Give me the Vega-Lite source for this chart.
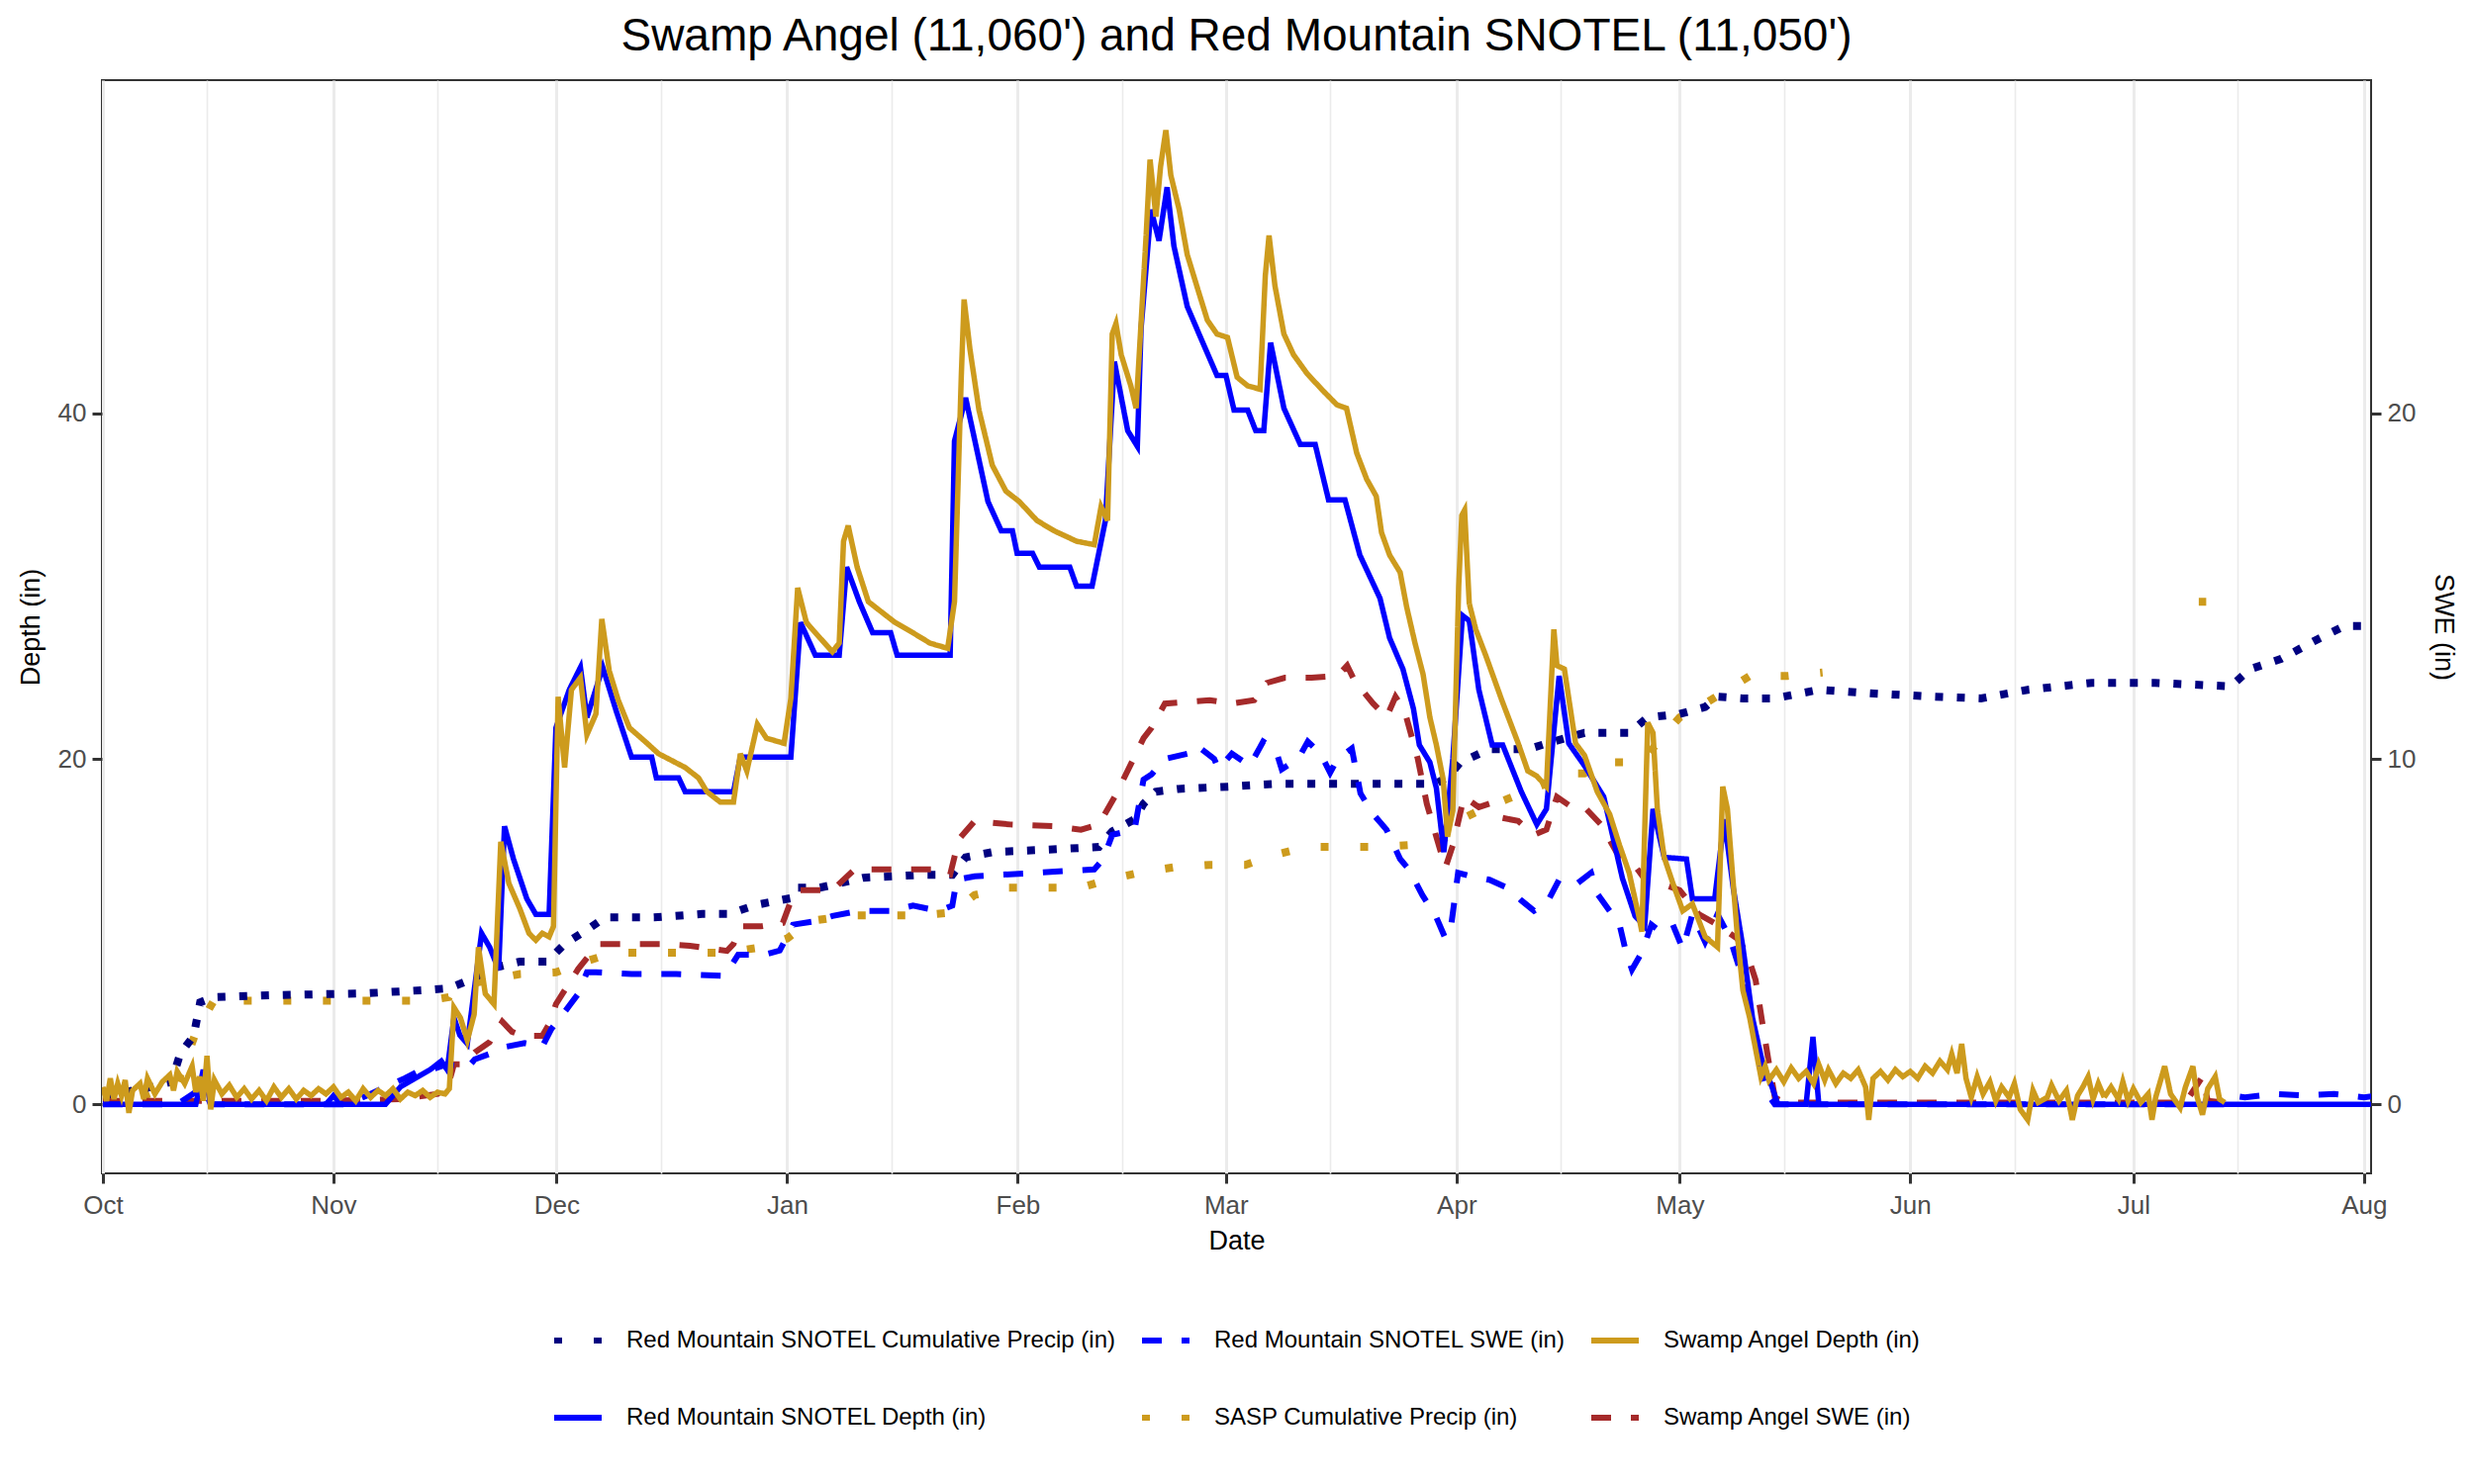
{
  "$schema": "https://vega.github.io/schema/vega-lite/v6.json",
  "width": 2293,
  "height": 1105,
  "autosize": {"type": "none"},
  "padding": {"left": 103, "top": 81, "right": 104, "bottom": 314},
  "background": "white",
  "title": {
    "text": "Swamp Angel (11,060') and Red Mountain SNOTEL (11,050')",
    "fontSize": 46,
    "fontWeight": "normal",
    "color": "black",
    "anchor": "middle",
    "frame": "group",
    "offset": 20
  },
  "datasets": {
    "rmd": [
      {"t":"2022-10-01T00:00","v":0},{"t":"2022-10-06T00:00","v":0},{"t":"2022-10-11T00:00","v":0},{"t":"2022-10-13T12:00","v":0},
      {"t":"2022-10-14T12:00","v":2.0},{"t":"2022-10-15T12:00","v":0},{"t":"2022-10-21T00:00","v":0},{"t":"2022-10-31T00:00","v":0},
      {"t":"2022-11-01T00:00","v":0.5},{"t":"2022-11-02T00:00","v":0},{"t":"2022-11-08T00:00","v":0},{"t":"2022-11-10T00:00","v":1.0},
      {"t":"2022-11-12T00:00","v":1.5},{"t":"2022-11-14T00:00","v":2.0},{"t":"2022-11-15T12:00","v":2.5},{"t":"2022-11-16T07:00","v":2.0},
      {"t":"2022-11-17T05:00","v":5.0},{"t":"2022-11-18T00:00","v":4.0},{"t":"2022-11-19T00:00","v":3.5},{"t":"2022-11-20T22:00","v":9.9},
      {"t":"2022-11-22T00:00","v":9.1},{"t":"2022-11-23T05:00","v":7.8},{"t":"2022-11-24T00:00","v":16.1},{"t":"2022-11-25T05:00","v":14.2},
      {"t":"2022-11-27T00:00","v":11.9},{"t":"2022-11-28T05:00","v":11.0},{"t":"2022-11-30T00:00","v":11.0},{"t":"2022-11-30T22:00","v":21.8},
      {"t":"2022-12-02T17:00","v":24.0},{"t":"2022-12-04T05:00","v":25.3},{"t":"2022-12-05T02:00","v":22.4},{"t":"2022-12-07T05:00","v":25.3},
      {"t":"2022-12-09T00:00","v":22.8},{"t":"2022-12-11T02:00","v":20.1},{"t":"2022-12-13T19:00","v":20.1},{"t":"2022-12-14T10:00","v":18.9},
      {"t":"2022-12-17T10:00","v":18.9},{"t":"2022-12-18T07:00","v":18.1},{"t":"2022-12-24T19:00","v":18.1},{"t":"2022-12-25T17:00","v":20.1},
      {"t":"2023-01-01T12:00","v":20.1},{"t":"2023-01-02T19:00","v":27.9},{"t":"2023-01-04T19:00","v":26.0},{"t":"2023-01-08T00:00","v":26.0},
      {"t":"2023-01-09T00:00","v":31.1},{"t":"2023-01-10T17:00","v":29.1},{"t":"2023-01-12T12:00","v":27.3},{"t":"2023-01-14T22:00","v":27.3},
      {"t":"2023-01-15T19:00","v":26.0},{"t":"2023-01-22T22:00","v":26.0},{"t":"2023-01-23T12:00","v":38.4},{"t":"2023-01-25T00:00","v":40.9},
      {"t":"2023-01-26T12:00","v":37.9},{"t":"2023-01-28T00:00","v":34.9},{"t":"2023-01-29T19:00","v":33.2},{"t":"2023-01-31T07:00","v":33.2},
      {"t":"2023-01-31T22:00","v":31.9},{"t":"2023-02-03T00:00","v":31.9},{"t":"2023-02-03T22:00","v":31.1},{"t":"2023-02-08T00:00","v":31.1},
      {"t":"2023-02-08T22:00","v":30.0},{"t":"2023-02-11T00:00","v":30.0},{"t":"2023-02-12T19:00","v":33.8},{"t":"2023-02-14T00:00","v":43.0},
      {"t":"2023-02-15T19:00","v":39.0},{"t":"2023-02-17T02:00","v":38.1},{"t":"2023-02-17T14:00","v":44.9},{"t":"2023-02-18T22:00","v":51.8},
      {"t":"2023-02-20T00:00","v":50.0},{"t":"2023-02-21T02:00","v":53.1},{"t":"2023-02-22T00:00","v":49.7},{"t":"2023-02-23T19:00","v":46.2},
      {"t":"2023-02-25T14:00","v":44.4},{"t":"2023-02-27T19:00","v":42.2},{"t":"2023-03-01T00:00","v":42.2},{"t":"2023-03-02T02:00","v":40.2},
      {"t":"2023-03-03T22:00","v":40.2},{"t":"2023-03-05T00:00","v":39.0},{"t":"2023-03-06T02:00","v":39.0},{"t":"2023-03-07T00:00","v":44.1},
      {"t":"2023-03-08T19:00","v":40.3},{"t":"2023-03-11T00:00","v":38.2},{"t":"2023-03-13T00:00","v":38.2},{"t":"2023-03-14T19:00","v":35.0},
      {"t":"2023-03-17T00:00","v":35.0},{"t":"2023-03-19T00:00","v":31.8},{"t":"2023-03-21T17:00","v":29.3},{"t":"2023-03-23T00:00","v":27.0},
      {"t":"2023-03-24T19:00","v":25.2},{"t":"2023-03-26T05:00","v":22.9},{"t":"2023-03-27T00:00","v":20.8},{"t":"2023-03-28T10:00","v":19.8},
      {"t":"2023-03-29T07:00","v":18.3},{"t":"2023-03-30T07:00","v":14.6},{"t":"2023-03-31T12:00","v":20.0},{"t":"2023-04-01T19:00","v":28.3},
      {"t":"2023-04-02T17:00","v":28.0},{"t":"2023-04-04T00:00","v":24.0},{"t":"2023-04-05T19:00","v":20.8},{"t":"2023-04-07T05:00","v":20.8},
      {"t":"2023-04-09T17:00","v":18.1},{"t":"2023-04-11T19:00","v":16.2},{"t":"2023-04-13T02:00","v":17.1},{"t":"2023-04-14T19:00","v":24.8},
      {"t":"2023-04-16T02:00","v":20.9},{"t":"2023-04-18T05:00","v":19.6},{"t":"2023-04-20T19:00","v":17.8},{"t":"2023-04-23T07:00","v":13.1},
      {"t":"2023-04-25T00:00","v":10.9},{"t":"2023-04-26T07:00","v":10.3},{"t":"2023-04-27T10:00","v":17.1},{"t":"2023-04-28T22:00","v":14.3},
      {"t":"2023-05-01T22:00","v":14.2},{"t":"2023-05-02T17:00","v":11.9},{"t":"2023-05-05T17:00","v":11.9},{"t":"2023-05-07T00:00","v":16.5},
      {"t":"2023-05-08T05:00","v":12.5},{"t":"2023-05-09T12:00","v":9.1},{"t":"2023-05-10T19:00","v":5.0},{"t":"2023-05-12T02:00","v":2.5},
      {"t":"2023-05-13T10:00","v":1.0},{"t":"2023-05-14T05:00","v":0},{"t":"2023-05-18T00:00","v":0},{"t":"2023-05-18T22:00","v":3.9},
      {"t":"2023-05-19T17:00","v":0},{"t":"2023-06-18T00:00","v":0},{"t":"2023-07-18T00:00","v":0},{"t":"2023-08-03T00:00","v":0}
    ],
    "sad": [
      {"t":"2022-10-01T00:00","v":1.0},{"t":"2022-10-01T12:00","v":0.2},{"t":"2022-10-02T00:00","v":1.5},{"t":"2022-10-02T12:00","v":0.3},
      {"t":"2022-10-03T00:00","v":1.2},{"t":"2022-10-03T12:00","v":0.5},{"t":"2022-10-04T00:00","v":1.4},{"t":"2022-10-04T12:00","v":-0.5},
      {"t":"2022-10-05T00:00","v":0.8},{"t":"2022-10-06T00:00","v":1.2},{"t":"2022-10-06T12:00","v":0.3},{"t":"2022-10-07T00:00","v":1.5},
      {"t":"2022-10-08T00:00","v":0.6},{"t":"2022-10-09T00:00","v":1.3},{"t":"2022-10-10T00:00","v":1.7},{"t":"2022-10-10T12:00","v":0.8},
      {"t":"2022-10-11T00:00","v":1.9},{"t":"2022-10-12T00:00","v":1.2},{"t":"2022-10-13T00:00","v":2.2},{"t":"2022-10-13T12:00","v":0.7},
      {"t":"2022-10-14T00:00","v":1.6},{"t":"2022-10-14T12:00","v":0.2},{"t":"2022-10-15T00:00","v":2.8},{"t":"2022-10-15T12:00","v":-0.3},
      {"t":"2022-10-16T00:00","v":1.4},{"t":"2022-10-17T00:00","v":0.6},{"t":"2022-10-18T00:00","v":1.1},{"t":"2022-10-19T00:00","v":0.4},
      {"t":"2022-10-20T00:00","v":0.9},{"t":"2022-10-21T00:00","v":0.3},{"t":"2022-10-22T00:00","v":0.8},{"t":"2022-10-23T00:00","v":0.2},
      {"t":"2022-10-24T00:00","v":1.0},{"t":"2022-10-25T00:00","v":0.4},{"t":"2022-10-26T00:00","v":0.9},{"t":"2022-10-27T00:00","v":0.3},
      {"t":"2022-10-28T00:00","v":0.8},{"t":"2022-10-29T00:00","v":0.5},{"t":"2022-10-30T00:00","v":0.9},{"t":"2022-10-31T00:00","v":0.6},
      {"t":"2022-11-01T00:00","v":1.0},{"t":"2022-11-02T00:00","v":0.4},{"t":"2022-11-03T00:00","v":0.7},{"t":"2022-11-04T00:00","v":0.2},
      {"t":"2022-11-05T00:00","v":0.9},{"t":"2022-11-06T00:00","v":0.4},{"t":"2022-11-07T00:00","v":0.8},{"t":"2022-11-08T00:00","v":0.5},
      {"t":"2022-11-09T00:00","v":0.9},{"t":"2022-11-10T00:00","v":0.3},{"t":"2022-11-11T00:00","v":0.7},{"t":"2022-11-12T00:00","v":0.5},
      {"t":"2022-11-13T00:00","v":0.8},{"t":"2022-11-14T00:00","v":0.4},{"t":"2022-11-15T00:00","v":0.7},{"t":"2022-11-16T00:00","v":0.6},
      {"t":"2022-11-16T14:00","v":0.9},{"t":"2022-11-17T05:00","v":5.6},{"t":"2022-11-18T02:00","v":5.0},{"t":"2022-11-19T00:00","v":3.7},
      {"t":"2022-11-19T22:00","v":5.2},{"t":"2022-11-20T12:00","v":9.1},{"t":"2022-11-21T10:00","v":6.4},{"t":"2022-11-22T14:00","v":5.8},
      {"t":"2022-11-23T12:00","v":15.2},{"t":"2022-11-24T14:00","v":12.8},{"t":"2022-11-26T02:00","v":11.3},{"t":"2022-11-27T07:00","v":9.9},
      {"t":"2022-11-28T05:00","v":9.5},{"t":"2022-11-29T02:00","v":9.9},{"t":"2022-11-30T00:00","v":9.7},{"t":"2022-11-30T14:00","v":10.3},
      {"t":"2022-12-01T05:00","v":23.6},{"t":"2022-12-02T02:00","v":19.5},{"t":"2022-12-03T00:00","v":24.0},{"t":"2022-12-04T05:00","v":24.7},
      {"t":"2022-12-05T02:00","v":21.4},{"t":"2022-12-06T07:00","v":22.6},{"t":"2022-12-07T02:00","v":28.1},{"t":"2022-12-08T02:00","v":25.1},
      {"t":"2022-12-09T07:00","v":23.4},{"t":"2022-12-10T19:00","v":21.8},{"t":"2022-12-12T22:00","v":21.0},{"t":"2022-12-14T17:00","v":20.3},
      {"t":"2022-12-16T12:00","v":19.9},{"t":"2022-12-18T07:00","v":19.5},{"t":"2022-12-20T02:00","v":18.9},{"t":"2022-12-21T05:00","v":18.1},
      {"t":"2022-12-23T00:00","v":17.5},{"t":"2022-12-24T19:00","v":17.5},{"t":"2022-12-25T17:00","v":20.3},{"t":"2022-12-26T14:00","v":19.3},
      {"t":"2022-12-28T00:00","v":22.0},{"t":"2022-12-29T05:00","v":21.2},{"t":"2022-12-31T14:00","v":20.9},{"t":"2023-01-01T12:00","v":23.5},
      {"t":"2023-01-02T10:00","v":29.9},{"t":"2023-01-03T14:00","v":27.9},{"t":"2023-01-05T10:00","v":27.0},{"t":"2023-01-07T02:00","v":26.2},
      {"t":"2023-01-08T00:00","v":26.7},{"t":"2023-01-08T14:00","v":32.6},{"t":"2023-01-09T05:00","v":33.5},{"t":"2023-01-10T10:00","v":31.1},
      {"t":"2023-01-11T22:00","v":29.1},{"t":"2023-01-13T17:00","v":28.5},{"t":"2023-01-15T12:00","v":27.9},{"t":"2023-01-17T22:00","v":27.3},
      {"t":"2023-01-20T05:00","v":26.7},{"t":"2023-01-22T14:00","v":26.4},{"t":"2023-01-23T12:00","v":29.1},{"t":"2023-01-24T10:00","v":42.2},
      {"t":"2023-01-24T19:00","v":46.6},{"t":"2023-01-25T14:00","v":43.7},{"t":"2023-01-26T19:00","v":40.2},{"t":"2023-01-28T14:00","v":37.0},
      {"t":"2023-01-30T10:00","v":35.5},{"t":"2023-02-01T05:00","v":34.9},{"t":"2023-02-03T14:00","v":33.8},{"t":"2023-02-05T22:00","v":33.2},
      {"t":"2023-02-08T22:00","v":32.6},{"t":"2023-02-11T07:00","v":32.4},{"t":"2023-02-12T05:00","v":34.6},{"t":"2023-02-13T02:00","v":33.8},
      {"t":"2023-02-13T17:00","v":44.6},{"t":"2023-02-14T05:00","v":45.2},{"t":"2023-02-14T22:00","v":43.4},{"t":"2023-02-16T05:00","v":41.6},
      {"t":"2023-02-16T22:00","v":40.3},{"t":"2023-02-17T12:00","v":44.6},{"t":"2023-02-18T07:00","v":50.5},{"t":"2023-02-18T19:00","v":54.7},
      {"t":"2023-02-19T14:00","v":51.4},{"t":"2023-02-20T05:00","v":54.3},{"t":"2023-02-20T22:00","v":56.4},{"t":"2023-02-21T14:00","v":53.8},
      {"t":"2023-02-22T17:00","v":51.8},{"t":"2023-02-23T19:00","v":49.2},{"t":"2023-02-25T05:00","v":47.2},{"t":"2023-02-26T12:00","v":45.4},
      {"t":"2023-02-27T19:00","v":44.6},{"t":"2023-03-01T05:00","v":44.4},{"t":"2023-03-02T12:00","v":42.1},{"t":"2023-03-03T22:00","v":41.6},
      {"t":"2023-03-05T14:00","v":41.4},{"t":"2023-03-06T07:00","v":48.0},{"t":"2023-03-06T19:00","v":50.3},{"t":"2023-03-07T14:00","v":47.4},
      {"t":"2023-03-08T19:00","v":44.6},{"t":"2023-03-10T02:00","v":43.4},{"t":"2023-03-11T22:00","v":42.3},{"t":"2023-03-14T02:00","v":41.3},
      {"t":"2023-03-15T22:00","v":40.5},{"t":"2023-03-17T05:00","v":40.3},{"t":"2023-03-18T14:00","v":37.7},{"t":"2023-03-19T22:00","v":36.2},
      {"t":"2023-03-21T05:00","v":35.2},{"t":"2023-03-21T22:00","v":33.1},{"t":"2023-03-23T00:00","v":31.8},{"t":"2023-03-24T10:00","v":30.8},
      {"t":"2023-03-25T07:00","v":28.8},{"t":"2023-03-26T10:00","v":26.7},{"t":"2023-03-27T12:00","v":24.9},{"t":"2023-03-28T10:00","v":22.4},
      {"t":"2023-03-29T07:00","v":20.8},{"t":"2023-03-30T05:00","v":18.8},{"t":"2023-03-30T19:00","v":15.5},{"t":"2023-03-31T12:00","v":17.0},
      {"t":"2023-04-01T07:00","v":30.0},{"t":"2023-04-01T17:00","v":34.1},{"t":"2023-04-02T02:00","v":34.4},{"t":"2023-04-02T17:00","v":29.0},
      {"t":"2023-04-03T14:00","v":27.5},{"t":"2023-04-04T22:00","v":26.0},{"t":"2023-04-07T02:00","v":23.4},{"t":"2023-04-09T07:00","v":20.9},
      {"t":"2023-04-10T14:00","v":19.3},{"t":"2023-04-11T19:00","v":19.0},{"t":"2023-04-13T02:00","v":18.4},{"t":"2023-04-14T02:00","v":27.5},
      {"t":"2023-04-14T12:00","v":25.4},{"t":"2023-04-15T12:00","v":25.2},{"t":"2023-04-17T00:00","v":20.9},{"t":"2023-04-18T05:00","v":20.2},
      {"t":"2023-04-19T22:00","v":18.1},{"t":"2023-04-21T14:00","v":16.8},{"t":"2023-04-22T22:00","v":15.0},{"t":"2023-04-24T05:00","v":13.4},
      {"t":"2023-04-25T12:00","v":10.9},{"t":"2023-04-25T22:00","v":10.0},{"t":"2023-04-26T17:00","v":22.1},{"t":"2023-04-27T10:00","v":21.5},
      {"t":"2023-04-28T00:00","v":17.1},{"t":"2023-04-28T22:00","v":14.3},{"t":"2023-04-30T02:00","v":12.8},{"t":"2023-05-01T10:00","v":11.2},
      {"t":"2023-05-02T17:00","v":11.6},{"t":"2023-05-04T10:00","v":9.7},{"t":"2023-05-06T02:00","v":9.1},{"t":"2023-05-06T19:00","v":18.4},
      {"t":"2023-05-07T10:00","v":17.1},{"t":"2023-05-08T17:00","v":10.0},{"t":"2023-05-09T12:00","v":6.6},{"t":"2023-05-10T10:00","v":5.0},
      {"t":"2023-05-11T05:00","v":3.2},{"t":"2023-05-11T22:00","v":1.6},{"t":"2023-05-12T12:00","v":2.2},{"t":"2023-05-13T00:00","v":1.4},
      {"t":"2023-05-14T00:00","v":2.0},{"t":"2023-05-15T00:00","v":1.3},{"t":"2023-05-16T00:00","v":2.1},{"t":"2023-05-17T00:00","v":1.5},
      {"t":"2023-05-18T00:00","v":1.9},{"t":"2023-05-19T00:00","v":1.2},{"t":"2023-05-19T17:00","v":2.3},{"t":"2023-05-20T12:00","v":1.4},
      {"t":"2023-05-21T00:00","v":2.0},{"t":"2023-05-22T00:00","v":1.2},{"t":"2023-05-23T00:00","v":1.8},{"t":"2023-05-24T00:00","v":1.5},
      {"t":"2023-05-25T00:00","v":2.0},{"t":"2023-05-26T00:00","v":1.0},{"t":"2023-05-26T10:00","v":-0.9},{"t":"2023-05-27T00:00","v":1.5},
      {"t":"2023-05-28T00:00","v":1.9},{"t":"2023-05-29T00:00","v":1.4},{"t":"2023-05-30T00:00","v":2.0},{"t":"2023-05-31T00:00","v":1.6},
      {"t":"2023-06-01T00:00","v":1.9},{"t":"2023-06-02T00:00","v":1.5},{"t":"2023-06-03T00:00","v":2.2},{"t":"2023-06-04T00:00","v":1.8},
      {"t":"2023-06-05T00:00","v":2.5},{"t":"2023-06-06T00:00","v":2.0},{"t":"2023-06-06T14:00","v":2.9},{"t":"2023-06-07T07:00","v":1.8},
      {"t":"2023-06-07T22:00","v":3.5},{"t":"2023-06-08T12:00","v":1.5},{"t":"2023-06-09T05:00","v":0.4},{"t":"2023-06-10T00:00","v":1.6},
      {"t":"2023-06-10T19:00","v":0.6},{"t":"2023-06-11T17:00","v":1.3},{"t":"2023-06-12T12:00","v":0.2},{"t":"2023-06-13T07:00","v":1.0},
      {"t":"2023-06-14T07:00","v":0.4},{"t":"2023-06-15T00:00","v":1.2},{"t":"2023-06-15T19:00","v":-0.3},{"t":"2023-06-16T19:00","v":-0.9},
      {"t":"2023-06-17T12:00","v":0.8},{"t":"2023-06-18T05:00","v":0.1},{"t":"2023-06-19T10:00","v":0.4},{"t":"2023-06-20T00:00","v":1.1},
      {"t":"2023-06-21T00:00","v":0.2},{"t":"2023-06-22T00:00","v":0.8},{"t":"2023-06-22T19:00","v":-0.9},{"t":"2023-06-23T12:00","v":0.5},
      {"t":"2023-06-24T05:00","v":1.0},{"t":"2023-06-24T22:00","v":1.6},{"t":"2023-06-25T14:00","v":0.3},{"t":"2023-06-26T07:00","v":1.2},
      {"t":"2023-06-27T02:00","v":0.4},{"t":"2023-06-28T00:00","v":1.0},{"t":"2023-06-29T00:00","v":0.3},{"t":"2023-06-29T14:00","v":1.3},
      {"t":"2023-06-30T07:00","v":0.2},{"t":"2023-07-01T00:00","v":0.9},{"t":"2023-07-02T00:00","v":0.1},{"t":"2023-07-03T00:00","v":0.6},
      {"t":"2023-07-03T12:00","v":-0.9},{"t":"2023-07-04T00:00","v":0.4},{"t":"2023-07-05T05:00","v":2.2},{"t":"2023-07-06T00:00","v":0.6},
      {"t":"2023-07-07T07:00","v":-0.2},{"t":"2023-07-08T00:00","v":1.0},{"t":"2023-07-09T00:00","v":2.2},{"t":"2023-07-09T14:00","v":0.4},
      {"t":"2023-07-10T07:00","v":-0.6},{"t":"2023-07-11T00:00","v":0.9},{"t":"2023-07-12T00:00","v":1.6},{"t":"2023-07-12T14:00","v":0.3},
      {"t":"2023-07-13T07:00","v":0.1}
    ],
    "rms": [
      {"t":"2022-10-01T00:00","v":0},{"t":"2022-10-11T00:00","v":0},{"t":"2022-10-14T12:00","v":0.5},{"t":"2022-10-15T12:00","v":0},
      {"t":"2022-10-26T00:00","v":0},{"t":"2022-11-02T19:00","v":0},{"t":"2022-11-06T00:00","v":0.3},{"t":"2022-11-08T00:00","v":0.5},
      {"t":"2022-11-10T14:00","v":0.75},{"t":"2022-11-12T10:00","v":0.95},{"t":"2022-11-14T19:00","v":1.05},{"t":"2022-11-16T07:00","v":1.16},
      {"t":"2022-11-19T00:00","v":1.05},{"t":"2022-11-20T00:00","v":1.3},{"t":"2022-11-22T00:00","v":1.46},{"t":"2022-11-24T07:00","v":1.67},
      {"t":"2022-11-26T17:00","v":1.77},{"t":"2022-11-29T02:00","v":1.67},{"t":"2022-11-30T07:00","v":2.18},{"t":"2022-12-01T19:00","v":2.59},
      {"t":"2022-12-03T22:00","v":3.2},{"t":"2022-12-05T02:00","v":3.82},{"t":"2022-12-06T07:00","v":3.82},{"t":"2022-12-11T02:00","v":3.77},
      {"t":"2022-12-17T02:00","v":3.77},{"t":"2022-12-23T14:00","v":3.72},{"t":"2022-12-25T10:00","v":4.33},{"t":"2022-12-29T00:00","v":4.33},
      {"t":"2022-12-31T00:00","v":4.45},{"t":"2023-01-01T19:00","v":5.2},{"t":"2023-01-04T19:00","v":5.3},{"t":"2023-01-07T02:00","v":5.45},
      {"t":"2023-01-10T17:00","v":5.6},{"t":"2023-01-14T22:00","v":5.6},{"t":"2023-01-17T22:00","v":5.75},{"t":"2023-01-21T10:00","v":5.6},
      {"t":"2023-01-23T05:00","v":5.75},{"t":"2023-01-23T19:00","v":6.5},{"t":"2023-01-26T05:00","v":6.6},{"t":"2023-02-11T07:00","v":6.8},
      {"t":"2023-02-12T12:00","v":7.1},{"t":"2023-02-13T17:00","v":7.8},{"t":"2023-02-16T17:00","v":7.95},{"t":"2023-02-17T22:00","v":9.4},
      {"t":"2023-02-19T00:00","v":9.55},{"t":"2023-02-20T19:00","v":10.0},{"t":"2023-02-23T19:00","v":10.15},{"t":"2023-02-25T00:00","v":10.4},
      {"t":"2023-02-27T10:00","v":10.0},{"t":"2023-02-28T00:00","v":9.7},{"t":"2023-03-01T19:00","v":10.15},{"t":"2023-03-04T05:00","v":9.8},
      {"t":"2023-03-06T00:00","v":10.5},{"t":"2023-03-07T17:00","v":10.25},{"t":"2023-03-08T12:00","v":9.7},{"t":"2023-03-10T17:00","v":10.0},
      {"t":"2023-03-12T00:00","v":10.5},{"t":"2023-03-13T17:00","v":10.15},{"t":"2023-03-15T00:00","v":9.6},{"t":"2023-03-16T00:00","v":10.0},
      {"t":"2023-03-17T22:00","v":10.3},{"t":"2023-03-19T02:00","v":9.0},{"t":"2023-03-20T19:00","v":8.4},{"t":"2023-03-22T14:00","v":7.95},
      {"t":"2023-03-24T10:00","v":7.1},{"t":"2023-03-25T14:00","v":6.8},{"t":"2023-03-27T10:00","v":6.05},{"t":"2023-03-29T05:00","v":5.45},
      {"t":"2023-03-30T12:00","v":4.8},{"t":"2023-03-31T07:00","v":5.2},{"t":"2023-04-01T05:00","v":6.7},{"t":"2023-04-03T00:00","v":6.6},
      {"t":"2023-04-05T10:00","v":6.5},{"t":"2023-04-08T00:00","v":6.25},{"t":"2023-04-09T17:00","v":5.9},{"t":"2023-04-11T10:00","v":5.6},
      {"t":"2023-04-13T02:00","v":5.8},{"t":"2023-04-14T19:00","v":6.5},{"t":"2023-04-17T07:00","v":6.4},{"t":"2023-04-19T02:00","v":6.7},
      {"t":"2023-04-19T22:00","v":6.1},{"t":"2023-04-21T14:00","v":5.6},{"t":"2023-04-22T22:00","v":5.2},{"t":"2023-04-23T19:00","v":4.4},
      {"t":"2023-04-24T14:00","v":3.9},{"t":"2023-04-25T22:00","v":4.4},{"t":"2023-04-27T05:00","v":5.2},{"t":"2023-04-28T10:00","v":5.0},
      {"t":"2023-04-30T02:00","v":5.2},{"t":"2023-05-01T10:00","v":4.5},{"t":"2023-05-02T17:00","v":5.5},{"t":"2023-05-04T10:00","v":4.7},
      {"t":"2023-05-06T02:00","v":5.5},{"t":"2023-05-07T19:00","v":4.8},{"t":"2023-05-09T02:00","v":3.9},{"t":"2023-05-09T22:00","v":3.3},
      {"t":"2023-05-10T19:00","v":2.4},{"t":"2023-05-11T14:00","v":1.3},{"t":"2023-05-12T22:00","v":0.26},{"t":"2023-05-13T19:00","v":0},
      {"t":"2023-07-13T00:00","v":0},{"t":"2023-07-14T02:00","v":0.26},{"t":"2023-07-16T00:00","v":0.2},{"t":"2023-07-20T00:00","v":0.3},
      {"t":"2023-07-24T00:00","v":0.25},{"t":"2023-07-28T00:00","v":0.3},{"t":"2023-08-01T00:00","v":0.2},{"t":"2023-08-03T00:00","v":0.25}
    ],
    "sas": [
      {"t":"2022-10-01T00:00","v":0.1},{"t":"2022-10-16T00:00","v":0.1},{"t":"2022-10-31T00:00","v":0.1},{"t":"2022-11-10T00:00","v":0.15},
      {"t":"2022-11-15T00:00","v":0.3},{"t":"2022-11-16T12:00","v":0.6},{"t":"2022-11-17T05:00","v":1.16},{"t":"2022-11-18T10:00","v":1.16},
      {"t":"2022-11-20T00:00","v":1.5},{"t":"2022-11-22T00:00","v":1.8},{"t":"2022-11-23T17:00","v":2.39},{"t":"2022-11-25T00:00","v":2.1},
      {"t":"2022-11-26T10:00","v":1.98},{"t":"2022-11-29T02:00","v":1.98},{"t":"2022-11-30T05:00","v":2.4},{"t":"2022-11-30T22:00","v":2.9},
      {"t":"2022-12-03T22:00","v":3.92},{"t":"2022-12-06T14:00","v":4.64},{"t":"2022-12-15T07:00","v":4.64},{"t":"2022-12-18T22:00","v":4.59},
      {"t":"2022-12-23T22:00","v":4.44},{"t":"2022-12-24T19:00","v":4.64},{"t":"2022-12-25T17:00","v":5.15},{"t":"2022-12-28T10:00","v":5.15},
      {"t":"2022-12-31T10:00","v":5.25},{"t":"2023-01-01T19:00","v":6.05},{"t":"2023-01-02T10:00","v":6.2},{"t":"2023-01-07T02:00","v":6.2},
      {"t":"2023-01-10T02:00","v":6.8},{"t":"2023-01-16T02:00","v":6.8},{"t":"2023-01-20T19:00","v":6.8},{"t":"2023-01-22T22:00","v":6.65},
      {"t":"2023-01-24T02:00","v":7.67},{"t":"2023-01-26T05:00","v":8.2},{"t":"2023-01-31T00:00","v":8.1},{"t":"2023-02-05T22:00","v":8.05},
      {"t":"2023-02-09T12:00","v":7.95},{"t":"2023-02-11T22:00","v":8.1},{"t":"2023-02-14T07:00","v":9.0},{"t":"2023-02-17T22:00","v":10.6},
      {"t":"2023-02-19T00:00","v":10.9},{"t":"2023-02-20T19:00","v":11.6},{"t":"2023-02-23T19:00","v":11.65},{"t":"2023-02-26T19:00","v":11.7},
      {"t":"2023-03-01T19:00","v":11.6},{"t":"2023-03-04T19:00","v":11.7},{"t":"2023-03-06T12:00","v":12.2},{"t":"2023-03-08T22:00","v":12.35},
      {"t":"2023-03-12T12:00","v":12.35},{"t":"2023-03-16T00:00","v":12.4},{"t":"2023-03-17T07:00","v":12.7},{"t":"2023-03-18T05:00","v":12.3},
      {"t":"2023-03-19T02:00","v":12.05},{"t":"2023-03-20T19:00","v":11.6},{"t":"2023-03-22T14:00","v":11.2},{"t":"2023-03-23T19:00","v":11.8},
      {"t":"2023-03-25T00:00","v":11.4},{"t":"2023-03-26T19:00","v":10.0},{"t":"2023-03-28T00:00","v":8.7},{"t":"2023-03-29T05:00","v":7.8},
      {"t":"2023-03-30T12:00","v":6.85},{"t":"2023-03-31T12:00","v":7.5},{"t":"2023-04-02T00:00","v":8.9},{"t":"2023-04-04T00:00","v":8.6},
      {"t":"2023-04-05T10:00","v":8.7},{"t":"2023-04-07T00:00","v":8.3},{"t":"2023-04-09T07:00","v":8.2},{"t":"2023-04-11T10:00","v":7.8},
      {"t":"2023-04-13T02:00","v":7.95},{"t":"2023-04-14T12:00","v":8.9},{"t":"2023-04-16T12:00","v":8.6},{"t":"2023-04-18T05:00","v":8.6},
      {"t":"2023-04-20T10:00","v":8.1},{"t":"2023-04-22T12:00","v":7.3},{"t":"2023-04-25T00:00","v":6.9},{"t":"2023-04-26T17:00","v":6.4},
      {"t":"2023-04-28T10:00","v":6.4},{"t":"2023-05-01T00:00","v":6.2},{"t":"2023-05-03T14:00","v":5.5},{"t":"2023-05-06T02:00","v":5.2},
      {"t":"2023-05-08T17:00","v":4.8},{"t":"2023-05-10T00:00","v":4.4},{"t":"2023-05-11T05:00","v":3.6},{"t":"2023-05-12T02:00","v":2.4},
      {"t":"2023-05-12T22:00","v":1.3},{"t":"2023-05-13T19:00","v":0.2},{"t":"2023-05-15T00:00","v":0.05},{"t":"2023-06-08T00:00","v":0.05},
      {"t":"2023-07-08T00:00","v":0.05},{"t":"2023-07-10T07:00","v":0.8},{"t":"2023-07-11T00:00","v":0.1},{"t":"2023-07-13T07:00","v":0.05}
    ],
    "rmp": [
      {"t":"2022-10-01T00:00","v":0.25},{"t":"2022-10-06T07:00","v":0.44},{"t":"2022-10-10T05:00","v":0.65},{"t":"2022-10-11T10:00","v":1.47},
      {"t":"2022-10-13T05:00","v":1.98},{"t":"2022-10-14T02:00","v":2.95},{"t":"2022-10-15T22:00","v":3.1},{"t":"2022-10-24T07:00","v":3.16},
      {"t":"2022-11-05T05:00","v":3.21},{"t":"2022-11-13T14:00","v":3.31},{"t":"2022-11-16T14:00","v":3.36},{"t":"2022-11-19T14:00","v":3.62},
      {"t":"2022-11-22T00:00","v":3.92},{"t":"2022-11-26T02:00","v":4.13},{"t":"2022-11-29T17:00","v":4.13},{"t":"2022-12-02T02:00","v":4.64},
      {"t":"2022-12-05T02:00","v":5.05},{"t":"2022-12-07T12:00","v":5.41},{"t":"2022-12-14T02:00","v":5.41},{"t":"2022-12-20T14:00","v":5.51},
      {"t":"2022-12-24T05:00","v":5.51},{"t":"2022-12-27T19:00","v":5.77},{"t":"2023-01-01T14:00","v":5.97},{"t":"2023-01-02T10:00","v":6.27},
      {"t":"2023-01-05T10:00","v":6.27},{"t":"2023-01-11T07:00","v":6.56},{"t":"2023-01-19T02:00","v":6.64},{"t":"2023-01-23T05:00","v":6.64},
      {"t":"2023-01-25T00:00","v":7.15},{"t":"2023-01-28T14:00","v":7.3},{"t":"2023-02-04T17:00","v":7.37},{"t":"2023-02-11T22:00","v":7.45},
      {"t":"2023-02-13T17:00","v":7.9},{"t":"2023-02-16T17:00","v":8.25},{"t":"2023-02-17T22:00","v":8.7},{"t":"2023-02-19T14:00","v":9.05},
      {"t":"2023-02-22T14:00","v":9.13},{"t":"2023-03-01T19:00","v":9.2},{"t":"2023-03-07T17:00","v":9.28},{"t":"2023-03-20T19:00","v":9.28},
      {"t":"2023-03-29T05:00","v":9.28},{"t":"2023-03-31T00:00","v":9.5},{"t":"2023-04-01T12:00","v":9.9},{"t":"2023-04-05T10:00","v":10.28},
      {"t":"2023-04-10T14:00","v":10.28},{"t":"2023-04-14T00:00","v":10.5},{"t":"2023-04-18T05:00","v":10.75},{"t":"2023-04-24T05:00","v":10.75},
      {"t":"2023-04-26T17:00","v":11.2},{"t":"2023-05-01T00:00","v":11.3},{"t":"2023-05-04T10:00","v":11.5},{"t":"2023-05-06T02:00","v":11.8},
      {"t":"2023-05-09T12:00","v":11.75},{"t":"2023-05-13T19:00","v":11.75},{"t":"2023-05-19T17:00","v":12.0},{"t":"2023-05-26T14:00","v":11.9},
      {"t":"2023-06-04T02:00","v":11.8},{"t":"2023-06-10T12:00","v":11.75},{"t":"2023-06-16T19:00","v":12.0},{"t":"2023-06-25T10:00","v":12.2},
      {"t":"2023-07-03T22:00","v":12.2},{"t":"2023-07-14T02:00","v":12.1},{"t":"2023-07-16T17:00","v":12.6},{"t":"2023-07-20T22:00","v":12.9},
      {"t":"2023-07-25T05:00","v":13.4},{"t":"2023-07-29T10:00","v":13.85},{"t":"2023-08-01T00:00","v":13.85},{"t":"2023-08-02T17:00","v":13.9}
    ],
    "sap": [
      {"t":"2022-10-01T00:00","v":0.1},{"t":"2022-10-06T00:00","v":0.2},{"t":"2022-10-11T00:00","v":0.6},{"t":"2022-10-13T12:00","v":2.08},
      {"t":"2022-10-15T22:00","v":3.0},{"t":"2022-11-04T00:00","v":3.0},{"t":"2022-11-13T14:00","v":3.0},{"t":"2022-11-16T12:00","v":3.1},
      {"t":"2022-11-17T05:00","v":3.4},{"t":"2022-11-22T00:00","v":3.6},{"t":"2022-11-26T02:00","v":3.77},{"t":"2022-11-30T22:00","v":3.82},
      {"t":"2022-12-04T19:00","v":4.13},{"t":"2022-12-08T17:00","v":4.39},{"t":"2022-12-23T14:00","v":4.39},{"t":"2022-12-28T10:00","v":4.54},
      {"t":"2023-01-01T00:00","v":4.8},{"t":"2023-01-04T00:00","v":5.3},{"t":"2023-01-09T12:00","v":5.47},{"t":"2023-01-19T02:00","v":5.47},
      {"t":"2023-01-23T05:00","v":5.55},{"t":"2023-01-26T05:00","v":6.06},{"t":"2023-01-30T10:00","v":6.27},{"t":"2023-02-09T12:00","v":6.27},
      {"t":"2023-02-13T02:00","v":6.5},{"t":"2023-02-17T07:00","v":6.7},{"t":"2023-02-22T00:00","v":6.86},{"t":"2023-02-26T19:00","v":6.93},
      {"t":"2023-03-03T14:00","v":6.93},{"t":"2023-03-07T17:00","v":7.23},{"t":"2023-03-11T22:00","v":7.45},{"t":"2023-03-21T10:00","v":7.45},
      {"t":"2023-03-26T19:00","v":7.52},{"t":"2023-03-30T00:00","v":7.6},{"t":"2023-04-01T17:00","v":8.26},{"t":"2023-04-05T00:00","v":8.6},
      {"t":"2023-04-09T07:00","v":8.96},{"t":"2023-04-16T12:00","v":9.58},{"t":"2023-04-18T05:00","v":9.58},{"t":"2023-04-21T05:00","v":9.9},
      {"t":"2023-04-25T22:00","v":9.9},{"t":"2023-04-28T12:00","v":10.6},{"t":"2023-05-01T00:00","v":11.2},{"t":"2023-05-04T10:00","v":11.6},
      {"t":"2023-05-07T10:00","v":12.0},{"t":"2023-05-10T10:00","v":12.4},{"t":"2023-05-15T12:00","v":12.4},{"t":"2023-05-20T05:00","v":12.5},
      {"t":"2023-05-20T14:00","v":null},{"t":"2023-07-09T19:00","v":14.55},{"t":"2023-07-10T19:00","v":14.55}
    ]
  },
  "encoding": {
    "x": {
      "field": "t",
      "type": "temporal",
      "title": "Date",
      "scale": {
        "domain": [
          {"year": 2022, "month": 9, "date": 30, "hours": 21},
          {"year": 2023, "month": 8, "date": 1, "hours": 23}
        ]
      },
      "axis": {
        "values": [
          {"year": 2022, "month": 10, "date": 1}, {"year": 2022, "month": 10, "date": 15},
          {"year": 2022, "month": 11, "date": 1}, {"year": 2022, "month": 11, "date": 15},
          {"year": 2022, "month": 12, "date": 1}, {"year": 2022, "month": 12, "date": 15},
          {"year": 2023, "month": 1, "date": 1}, {"year": 2023, "month": 1, "date": 15},
          {"year": 2023, "month": 2, "date": 1}, {"year": 2023, "month": 2, "date": 15},
          {"year": 2023, "month": 3, "date": 1}, {"year": 2023, "month": 3, "date": 15},
          {"year": 2023, "month": 4, "date": 1}, {"year": 2023, "month": 4, "date": 15},
          {"year": 2023, "month": 5, "date": 1}, {"year": 2023, "month": 5, "date": 15},
          {"year": 2023, "month": 6, "date": 1}, {"year": 2023, "month": 6, "date": 15},
          {"year": 2023, "month": 7, "date": 1}, {"year": 2023, "month": 7, "date": 15},
          {"year": 2023, "month": 8, "date": 1}
        ],
        "labelExpr": "date(datum.value) == 1 ? timeFormat(datum.value, '%b') : ''",
        "tickOpacity": {"condition": {"test": "date(datum.value) == 1", "value": 1}, "value": 0},
        "gridWidth": {"condition": {"test": "date(datum.value) == 1", "value": 3}, "value": 1.6},
        "labelPadding": 9,
        "titlePadding": 10
      }
    }
  },
  "layer": [
    {
      "encoding": {
        "y": {
          "field": "v",
          "type": "quantitative",
          "title": "SWE (in)",
          "scale": {"domain": [-2.0, 29.65], "nice": false, "zero": false},
          "axis": {
            "orient": "right",
            "values": [0, 10, 20],
            "grid": false,
            "labelPadding": 6,
            "titlePadding": 14
          }
        }
      },
      "layer": [
        {
          "data": {"name": "sap"},
          "mark": {"type": "line", "strokeWidth": 8, "clip": true, "invalid": "break-paths-show-domains"},
          "encoding": {
            "color": {
              "datum": "SASP Cumulative Precip (in)",
              "scale": {
                "domain": ["Red Mountain SNOTEL Cumulative Precip (in)", "Red Mountain SNOTEL Depth (in)", "Red Mountain SNOTEL SWE (in)", "SASP Cumulative Precip (in)", "Swamp Angel Depth (in)", "Swamp Angel SWE (in)"],
                "range": ["#000080", "#0000FF", "#0000FF", "#CD9B1D", "#CD9B1D", "#A52A2A"]
              },
              "legend": {
                "title": null,
                "orient": "none",
                "legendX": 454,
                "legendY": 1247,
                "columns": 3,
                "columnPadding": 14,
                "rowPadding": 39,
                "symbolType": "stroke",
                "symbolSize": 2304,
                "symbolStrokeWidth": 6,
                "labelFontSize": 24,
                "labelColor": "black",
                "labelOffset": 22,
                "labelLimit": 1000
              }
            },
            "strokeDash": {
              "datum": "SASP Cumulative Precip (in)",
              "scale": {
                "domain": ["Red Mountain SNOTEL Cumulative Precip (in)", "Red Mountain SNOTEL Depth (in)", "Red Mountain SNOTEL SWE (in)", "SASP Cumulative Precip (in)", "Swamp Angel Depth (in)", "Swamp Angel SWE (in)"],
                "range": [[8, 32], [1, 0], [20, 20], [8, 32], [1, 0], [20, 20]]
              },
              "legend": {
                "title": null,
                "orient": "none",
                "legendX": 454,
                "legendY": 1247,
                "columns": 3,
                "columnPadding": 14,
                "rowPadding": 39,
                "symbolType": "stroke",
                "symbolSize": 2304,
                "symbolStrokeWidth": 6,
                "labelFontSize": 24,
                "labelColor": "black",
                "labelOffset": 22,
                "labelLimit": 1000
              }
            }
          }
        },
        {
          "data": {"name": "rmp"},
          "mark": {"type": "line", "strokeWidth": 8, "strokeDash": [8, 14], "clip": true},
          "encoding": {
            "color": {"datum": "Red Mountain SNOTEL Cumulative Precip (in)"}
          }
        },
        {
          "data": {"name": "sas"},
          "mark": {"type": "line", "strokeWidth": 6, "clip": true},
          "encoding": {
            "color": {"datum": "Swamp Angel SWE (in)"},
            "strokeDash": {"datum": "Swamp Angel SWE (in)"}
          }
        },
        {
          "data": {"name": "rms"},
          "mark": {"type": "line", "strokeWidth": 6, "clip": true},
          "encoding": {
            "color": {"datum": "Red Mountain SNOTEL SWE (in)"},
            "strokeDash": {"datum": "Red Mountain SNOTEL SWE (in)"}
          }
        }
      ]
    },
    {
      "encoding": {
        "y": {
          "field": "v",
          "type": "quantitative",
          "title": "Depth (in)",
          "scale": {"domain": [-4.0, 59.3], "nice": false, "zero": false},
          "axis": {
            "orient": "left",
            "values": [0, 10, 20, 30, 40, 50],
            "labelExpr": "datum.value % 20 == 0 ? datum.label : ''",
            "tickOpacity": {"condition": {"test": "datum.value % 20 == 0", "value": 1}, "value": 0},
            "gridWidth": {"condition": {"test": "datum.value % 20 == 0", "value": 3}, "value": 1.6},
            "labelPadding": 6,
            "titlePadding": 13
          }
        }
      },
      "layer": [
        {
          "data": {"name": "rmd"},
          "mark": {"type": "line", "strokeWidth": 5.5, "clip": true},
          "encoding": {
            "color": {"datum": "Red Mountain SNOTEL Depth (in)"},
            "strokeDash": {"datum": "Red Mountain SNOTEL Depth (in)"}
          }
        },
        {
          "data": {"name": "sad"},
          "mark": {"type": "line", "strokeWidth": 5.5, "clip": true},
          "encoding": {
            "color": {"datum": "Swamp Angel Depth (in)"},
            "strokeDash": {"datum": "Swamp Angel Depth (in)"}
          }
        }
      ]
    }
  ],
  "resolve": {"scale": {"y": "independent"}},
  "config": {
    "font": "Liberation Sans",
    "view": {"stroke": "#333333", "strokeWidth": 2},
    "axis": {
      "domain": false,
      "tickColor": "#333333",
      "tickWidth": 3,
      "tickSize": 10,
      "labelColor": "#4D4D4D",
      "labelFontSize": 26,
      "labelFont": "Liberation Sans",
      "labelOverlap": false,
      "labelFlush": false,
      "titleFont": "Liberation Sans",
      "titleFontSize": 27,
      "titleFontWeight": "normal",
      "titleColor": "black",
      "gridColor": "#EBEBEB"
    },
    "legend": {
      "labelFont": "Liberation Sans"
    }
  }
}
